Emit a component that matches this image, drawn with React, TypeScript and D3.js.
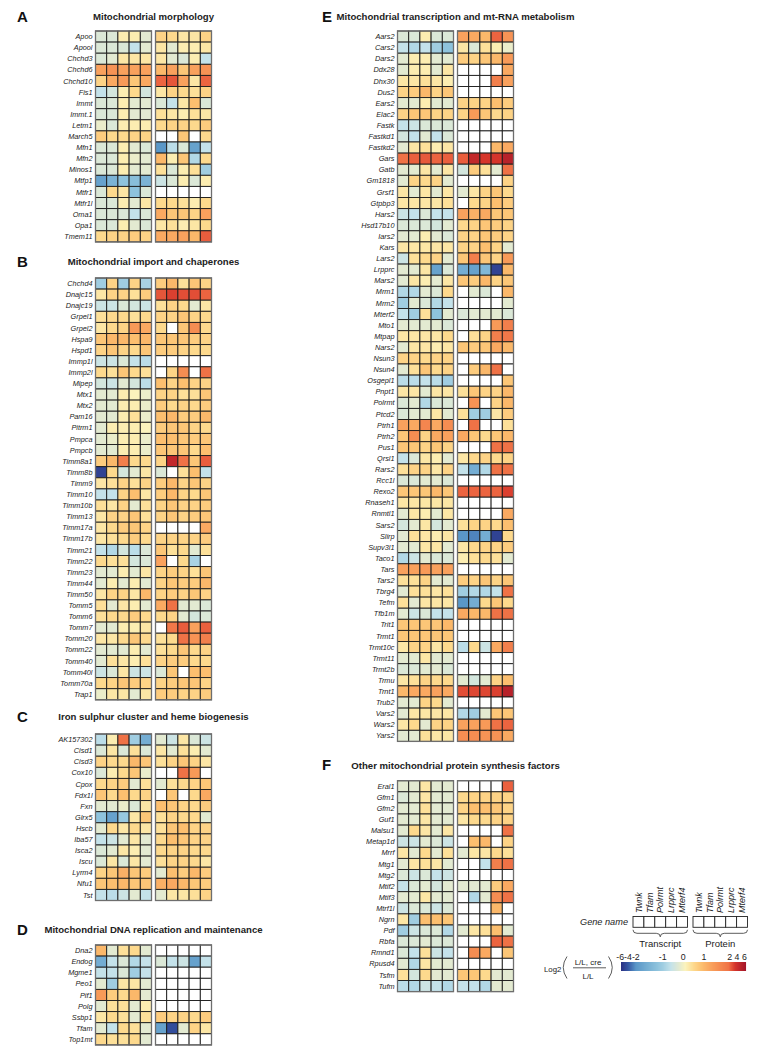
import React from "react";
import * as d3 from "d3";

const N = null;

// ---------- Panel A: Mitochondrial morphology ----------
const genesA = ["Apoo","Apool","Chchd3","Chchd6","Chchd10","Fis1","Immt","Immt.1","Letm1","March5","Mfn1","Mfn2","Minos1","Mtfp1","Mtfr1","Mtfr1l","Oma1","Opa1","Tmem11"];
const transcriptA = [
  [-0.3,-0.3,0.2,0.2,-0.2],[-0.3,-0.3,-0.3,-0.6,-0.2],[-0.3,-0.2,0.3,0.3,0.3],[1.3,1.5,1.3,1.3,1.3],[0.6,1.2,1.4,0.8,1.2],
  [-0.6,-0.4,0.2,0.5,-0.4],[-0.3,-0.3,0.2,-0.2,-0.2],[-0.3,-0.3,0.2,-0.2,-0.2],[-0.1,-0.3,0.2,0.2,0.2],[0.7,0.5,0.5,0.6,0.6],
  [-0.3,-0.3,0.2,-0.2,-0.3],[-0.3,-0.3,0.2,-0.1,-0.2],[-0.3,-0.3,0.2,-0.2,-0.2],[-1.8,-1.5,-1.2,-1.3,-1.5],[-0.3,0.5,0.3,-1.2,-0.3],
  [-0.3,-0.3,0.2,-0.2,0.3],[-0.3,-0.3,-0.3,-0.6,-0.3],[-0.3,-0.3,0.2,-0.2,-0.3],[0.5,0.6,0.6,0.7,0.6]
];
const proteinA = [
  [0.6,0.5,0.3,0.3,0.6],[0.3,-0.2,0.2,0.2,0.3],[0.3,-0.2,-0.3,0.2,-0.6],[1.0,1.3,0.8,1.3,1.5],[2.2,2.6,1.3,0.3,2.2],
  [0.3,0.6,0.5,0.4,0.6],[-0.3,-0.6,0.3,0.9,-0.3],[0.4,0.3,0.2,0.4,0.3],[0.5,0.6,0.6,0.5,0.7],[N,N,0.8,N,0.5],
  [-2.0,-0.7,-0.3,-1.8,-0.6],[1.0,0.2,0.8,-0.8,0.5],[0.4,-0.3,0.2,0.4,-1.0],[-0.5,-0.3,0.2,-0.3,0.2],[N,N,N,N,N],
  [0.5,0.5,0.4,0.2,0.5],[1.2,0.8,0.8,0.6,1.3],[0.3,0.4,0.2,0.3,0.5],[1.2,1.2,1.3,1.0,2.4]
];

// ---------- Panel B: Mitochondrial import and chaperones ----------
const genesB = ["Chchd4","Dnajc15","Dnajc19","Grpel1","Grpel2","Hspa9","Hspd1","Immp1l","Immp2l","Mipep","Mtx1","Mtx2","Pam16","Pitrm1","Pmpca","Pmpcb","Timm8a1","Timm8b","Timm9","Timm10","Timm10b","Timm13","Timm17a","Timm17b","Timm21","Timm22","Timm23","Timm44","Timm50","Tomm5","Tomm6","Tomm7","Tomm20","Tomm22","Tomm40","Tomm40l","Tomm70a","Trap1"];
const transcriptB = [
  [-1.0,0.6,-1.0,0.6,-0.9],[0.3,0.6,0.6,0.4,0.7],[-0.5,-0.5,-0.3,-0.4,-0.5],[0.4,0.5,0.5,0.4,0.5],[0.3,0.5,0.6,1.4,1.2],
  [0.8,1.0,1.0,0.9,1.0],[0.6,0.8,0.6,0.5,0.8],[-0.5,-0.5,-0.3,-0.6,-0.7],[0.5,0.4,0.8,0.5,0.4],[-0.4,-0.5,-0.2,-0.4,-0.7],
  [-0.2,-0.2,0.2,0.1,-0.1],[-0.2,-0.2,0.2,0.2,-0.1],[-0.2,-0.2,0.2,0.4,-0.1],[-0.2,0.2,0.2,0.2,0.1],[-0.2,-0.1,0.2,0.2,-0.1],
  [-0.2,-0.2,0.2,0.2,-0.1],[0.7,1.0,1.8,0.5,0.5],[-5.0,0.5,-0.4,-0.2,0.3],[0.3,0.4,0.6,0.4,0.6],[-0.6,-0.6,0.6,0.9,0.3],
  [0.4,0.3,0.6,-0.2,0.4],[0.3,0.6,0.6,0.8,0.4],[0.3,0.5,0.7,0.8,0.6],[0.3,0.4,0.5,0.7,0.5],[-0.6,-0.8,-0.4,-0.7,-0.3],
  [0.5,0.4,0.4,-0.4,-0.3],[-0.2,-0.2,0.2,-0.2,0.3],[-0.2,0.2,-0.2,0.2,-0.2],[0.3,0.6,0.6,0.3,1.0],[0.4,-0.2,0.3,0.2,-0.2],
  [0.4,0.5,0.5,0.7,0.5],[-0.2,-0.2,0.2,0.2,0.3],[0.3,0.3,0.5,0.8,0.5],[-0.2,-0.2,-0.2,0.2,-0.2],[-0.2,0.4,0.3,0.2,0.4],
  [-0.5,-0.3,0.3,-0.5,-0.5],[0.5,0.6,0.8,0.7,0.6],[-0.1,0.3,0.3,-0.2,0.3]
];
const proteinB = [
  [0.7,1.0,0.4,0.8,0.6],[2.6,3.2,2.8,2.8,2.2],[0.4,0.6,0.5,-0.2,0.3],[0.6,0.6,0.8,0.6,0.5],[0.5,N,0.8,1.6,0.5],
  [0.8,0.8,0.8,0.7,0.6],[0.7,0.7,0.6,0.5,0.5],[N,N,N,N,N],[N,0.6,1.6,N,2.0],[0.9,0.6,0.9,0.6,0.6],
  [0.6,0.6,0.4,0.4,0.8],[0.7,0.5,0.6,0.5,0.7],[0.9,1.0,0.7,0.7,1.0],[0.7,0.8,0.8,0.6,0.5],[0.9,0.9,0.8,0.7,0.8],
  [0.8,0.8,0.8,0.5,0.9],[0.6,4.5,2.0,0.8,2.4],[-0.3,N,0.4,0.9,-0.6],[0.7,1.0,0.6,0.8,0.6],[0.7,1.0,0.6,0.5,0.8],
  [0.6,0.8,0.6,0.6,0.7],[0.6,0.8,0.6,0.7,0.8],[N,N,N,N,1.2],[0.6,0.6,0.6,0.6,0.7],[0.8,0.4,0.5,-0.2,0.4],
  [1.3,N,0.5,-0.9,N],[0.6,0.7,0.6,0.4,0.8],[0.6,0.8,0.7,0.7,1.0],[0.6,0.7,0.6,0.8,0.6],[1.2,2.0,-0.2,-0.2,-0.3],
  [0.5,0.6,-0.2,-0.4,-0.3],[N,1.9,2.4,1.3,2.3],[0.4,0.5,2.0,1.5,1.8],[0.4,0.5,0.8,0.5,0.6],[0.6,0.7,0.7,0.5,0.5],
  [-0.3,0.8,N,0.9,0.9],[0.6,0.7,0.8,0.8,0.6],[0.7,0.7,0.6,0.6,0.7]
];

// ---------- Panel C: Iron sulphur cluster and heme biogenesis ----------
const genesC = ["AK157302","Cisd1","Cisd3","Cox10","Cpox","Fdx1l","Fxn","Glrx5","Hscb","Iba57","Isca2","Iscu","Lyrm4","Nfu1","Tst"];
const transcriptC = [
  [-0.7,0.2,2.0,-1.0,-1.6],[-0.3,0.3,-0.3,0.4,-0.3],[0.6,0.5,0.5,1.0,0.8],[-0.3,0.2,0.5,0.8,-0.1],[0.5,0.6,0.7,-0.2,0.4],
  [0.8,0.5,0.9,0.5,0.6],[-0.2,-0.2,-0.1,-0.3,0.3],[-1.2,-1.8,-1.1,0.3,0.8],[-0.2,0.5,0.3,0.5,0.3],[-0.6,-0.5,-0.2,0.3,-0.2],
  [-0.3,-0.2,0.3,0.2,-0.2],[-0.3,0.3,-0.3,0.3,-0.2],[0.6,0.8,1.1,0.8,0.7],[0.8,0.9,1.0,0.8,0.8],[-0.6,-0.7,-0.5,-0.2,-0.6]
];
const proteinC = [
  [-0.2,-0.5,0.3,-0.3,-0.5],[0.3,-0.2,0.4,0.2,-0.2],[0.4,0.6,0.8,0.6,0.3],[N,N,2.0,1.4,N],[-0.2,0.4,0.5,0.6,0.8],
  [N,0.8,N,0.5,1.2],[0.9,0.8,0.6,0.5,0.7],[0.4,0.6,0.5,0.5,-0.2],[0.4,0.8,0.9,0.6,0.6],[0.5,0.9,0.8,0.6,0.6],
  [0.5,0.6,0.6,0.5,0.5],[0.4,0.6,0.6,0.5,0.3],[-0.2,0.9,0.7,1.0,0.7],[1.1,1.2,1.0,0.8,0.7],[-0.2,0.3,0.3,0.4,0.6]
];

// ---------- Panel D: Mitochondrial DNA replication and maintenance ----------
const genesD = ["Dna2","Endog","Mgme1","Peo1","Pif1","Polg","Ssbp1","Tfam","Top1mt"];
const transcriptD = [
  [1.0,-0.2,0.4,0.5,-0.2],[-1.6,-0.6,-0.3,-0.8,-0.6],[-0.6,-0.6,-0.3,-1.0,-0.6],[-0.2,-1.0,0.3,0.3,-0.2],[1.4,0.7,0.5,1.0,-0.2],
  [-0.2,0.4,0.4,-0.2,0.2],[0.3,0.5,0.4,-0.2,0.4],[-0.2,-0.6,0.5,0.4,-0.2],[0.5,0.4,0.4,0.5,-0.2]
];
const proteinD = [
  [N,N,N,N,N],[-0.3,-0.6,-0.5,-1.8,-0.6],[N,N,N,N,N],[N,N,N,N,N],[N,N,N,N,N],
  [N,N,N,N,N],[0.7,0.6,0.6,0.5,0.7],[-1.8,-4.5,-0.2,0.6,0.3],[N,N,N,N,N]
];

// ---------- Panel E: Mitochondrial transcription and mt-RNA metabolism ----------
const genesE = ["Aars2","Cars2","Dars2","Ddx28","Dhx30","Dus2","Ears2","Elac2","Fastk","Fastkd1","Fastkd2","Gars","Gatb","Gm1818","Grsf1","Gtpbp3","Hars2","Hsd17b10","Iars2","Kars","Lars2","Lrpprc","Mars2","Mrm1","Mrm2","Mterf2","Mto1","Mtpap","Nars2","Nsun3","Nsun4","Osgepl1","Pnpt1","Polrmt","Ptcd2","Ptrh1","Ptrh2","Pus1","Qrsl1","Rars2","Rcc1l","Rexo2","Rnaseh1","Rnmtl1","Sars2","Slirp","Supv3l1","Taco1","Tars","Tars2","Tbrg4","Tefm","Tfb1m","Trit1","Trmt1","Trmt10c","Trmt11","Trmt2b","Trmu","Trnt1","Trub2","Vars2","Wars2","Yars2"];
const transcriptE = [
  [-0.3,-0.3,0.2,-0.3,-0.3],[-0.6,-0.8,-0.6,-1.0,-1.2],[-0.2,0.2,0.2,-0.2,-0.2],[-0.2,0.2,0.2,-0.2,0.3],[0.3,0.3,0.4,0.3,0.2],
  [0.6,0.7,1.0,0.6,0.8],[-0.2,-0.2,0.2,-0.2,-0.2],[0.6,0.8,0.8,0.6,0.6],[-0.6,-0.5,-0.3,-0.3,-0.3],[-0.4,-0.6,-0.2,-0.6,-0.3],
  [-0.2,0.3,0.4,0.2,0.3],[2.0,2.3,2.5,2.2,2.3],[-0.2,-0.2,0.3,-0.2,0.3],[-0.2,0.6,0.5,0.6,-0.2],[0.3,-0.2,0.3,-0.2,0.3],
  [0.3,0.3,0.3,0.3,0.4],[-0.5,-0.6,-0.3,-0.6,-0.6],[-0.3,-0.3,-0.3,-0.4,-0.2],[-0.2,-0.2,0.2,-0.2,-0.3],[0.3,0.3,0.3,0.3,0.3],
  [-0.5,0.4,0.5,0.6,-0.2],[-0.2,-0.2,0.3,-1.8,-0.3],[-0.2,0.3,0.2,-0.2,0.3],[-0.8,-0.8,-0.2,-0.3,0.5],[-1.0,-0.2,-0.3,-0.8,-0.6],
  [-0.6,-1.0,0.4,-1.2,-0.2],[-0.2,-0.2,-0.2,-0.2,-0.3],[0.3,0.3,0.3,0.3,0.5],[-0.2,0.3,0.3,0.2,0.3],[0.6,0.6,0.5,0.6,0.6],
  [-0.2,0.4,0.8,0.5,0.6],[-0.7,-0.7,-0.6,-0.7,-1.0],[0.3,0.3,-0.2,0.3,0.3],[-0.3,-0.2,-0.8,-0.3,-0.3],[-0.3,-0.2,-0.2,0.3,-0.2],
  [1.3,1.2,1.7,1.2,1.6],[0.8,1.6,0.6,1.2,1.3],[0.8,0.8,0.6,0.8,0.6],[-0.6,-0.3,0.3,0.2,-0.2],[0.4,0.6,0.6,0.3,0.6],
  [-0.3,-0.3,-0.2,-0.2,-0.3],[0.8,0.8,0.8,1.0,0.8],[0.3,0.3,0.3,0.3,0.3],[-0.2,0.3,0.2,-0.2,0.3],[-0.4,-0.2,0.3,-0.4,-0.2],
  [-0.2,0.4,0.3,0.2,0.3],[-0.2,-0.2,0.3,0.3,-0.2],[-0.8,-0.5,-0.2,-0.3,-0.3],[1.3,1.3,1.4,1.3,1.3],[0.4,0.4,0.6,-0.2,-0.2],
  [-0.2,0.4,0.4,0.3,0.4],[0.4,-0.2,0.3,0.3,0.3],[-0.2,-0.5,-0.3,-0.6,-0.6],[0.8,0.8,0.8,0.8,1.0],[0.8,0.8,0.8,0.8,0.8],
  [0.3,0.6,0.6,0.3,0.5],[-0.2,-0.2,0.3,-0.2,-0.2],[-0.3,-0.3,-0.2,-0.2,-0.3],[0.3,0.4,0.6,0.5,0.5],[1.0,1.2,1.2,1.3,1.2],
  [-0.2,-0.2,0.6,0.5,-0.2],[-0.2,0.3,0.3,0.3,0.3],[0.3,0.5,-0.2,0.6,0.6],[-0.2,-0.2,0.4,0.3,0.3]
];
const proteinE = [
  [1.3,1.2,1.0,2.2,1.5],[0.3,-0.3,0.4,0.2,-0.1],[0.7,0.6,0.8,1.0,1.4],[N,N,N,N,1.2],[N,N,N,1.8,1.3],
  [N,N,N,N,N],[0.6,0.6,0.6,0.9,0.7],[0.6,1.4,0.8,0.5,0.6],[N,N,N,N,N],[N,N,N,N,N],
  [N,N,N,1.0,1.2],[2.4,4.5,3.5,3.5,5.0],[-0.4,0.7,0.4,-0.2,2.0],[N,N,N,N,0.6],[-0.2,0.3,0.6,0.8,0.5],
  [N,0.5,0.6,0.9,0.7],[1.3,1.1,1.2,0.8,0.8],[0.5,0.6,0.8,0.7,0.6],[0.6,0.6,0.8,0.7,0.6],[0.6,0.6,0.9,0.6,-0.2],
  [0.8,1.8,0.8,0.6,1.4],[-1.6,-1.8,-1.4,-5.0,1.0],[0.8,0.7,1.0,0.6,0.8],[N,-0.2,-0.3,N,1.0],[N,N,N,N,-0.2],
  [-0.3,-0.2,-0.2,-0.2,-0.3],[N,N,N,1.4,1.8],[N,0.4,0.6,1.8,1.9],[0.8,0.7,0.8,1.2,1.0],[N,N,N,N,N],
  [N,0.7,1.0,2.0,N],[N,N,N,N,0.8],[0.4,0.8,0.6,0.6,1.0],[N,1.5,N,0.6,1.0],[0.4,-1.0,-1.0,0.3,0.7],
  [N,2.0,N,N,0.4],[1.2,0.8,0.5,0.8,1.0],[N,N,N,2.0,2.0],[0.3,0.5,0.6,0.5,0.6],[-0.6,-1.6,-0.8,2.0,2.0],
  [N,N,N,N,N],[2.2,2.2,2.2,2.2,3.2],[N,N,N,N,N],[N,N,N,N,1.2],[0.4,0.6,0.6,0.5,0.9],
  [-2.0,-2.6,-1.6,-5.0,0.5],[0.3,0.5,0.6,0.6,0.7],[0.2,0.4,0.5,0.4,-0.2],[N,N,N,N,N],[0.7,0.6,0.8,0.6,0.8],
  [-1.0,-0.8,-0.8,-0.6,2.0],[-2.0,-1.6,0.5,0.8,0.5],[1.2,1.0,1.0,2.0,2.0],[N,N,N,N,N],[N,N,N,N,N],
  [-0.7,0.5,-0.5,1.2,1.8],[N,N,N,N,N],[N,N,N,N,N],[-0.2,-0.4,-0.2,0.6,0.9],[2.8,3.0,3.0,3.2,5.0],
  [N,N,N,N,N],[-0.8,-1.0,-0.2,0.8,0.8],[1.3,1.3,1.4,2.0,2.2],[1.6,1.6,1.5,1.5,1.2]
];

// ---------- Panel F: Other mitochondrial protein synthesis factors ----------
const genesF = ["Eral1","Gfm1","Gfm2","Guf1","Malsu1","Metap1d","Mrrf","Mtg1","Mtg2","Mtif2","Mtif3","Mtrf1l","Ngrn","Pdf","Rbfa","Rmnd1","Rpusd4","Tsfm","Tufm"];
const transcriptF = [
  [-0.2,-0.2,0.3,-0.2,-0.2],[-0.3,-0.2,0.3,-0.2,-0.2],[-0.2,-0.2,0.4,-0.2,-0.2],[-0.2,-0.2,0.3,-0.2,-0.2],[-0.2,0.5,0.3,-0.2,0.3],
  [-0.5,-0.5,-0.2,-0.3,-0.5],[0.3,-0.2,0.5,-0.2,0.4],[-0.2,0.3,0.4,0.3,-0.2],[-0.3,-0.5,-0.3,-0.6,-0.5],[-0.6,-0.3,-0.2,-0.4,-0.2],
  [-0.2,-0.2,0.3,-0.2,-0.2],[-0.5,-0.3,-0.3,-0.5,-0.3],[0.3,-1.0,0.9,0.9,0.8],[-1.0,-0.5,-0.3,-0.3,-0.8],[-0.3,-0.3,-0.2,-0.3,-0.3],
  [-0.3,-0.6,0.4,-0.5,-0.6],[-0.2,-0.8,0.3,-0.2,-0.2],[0.4,-0.4,0.5,-0.2,-0.2],[-0.7,-0.8,-0.5,-0.6,-0.8]
];
const proteinF = [
  [N,N,N,N,2.3],[0.5,0.6,0.6,0.6,0.6],[0.6,0.9,0.9,0.8,0.6],[0.3,0.5,0.5,0.6,0.6],[N,N,N,N,2.0],
  [N,0.9,1.0,N,0.6],[-0.2,0.3,0.3,0.5,0.4],[N,N,-0.6,1.8,2.0],[N,N,N,N,N],[-0.2,-0.2,-0.2,0.7,1.2],
  [N,-0.8,-0.2,1.6,2.0],[N,N,N,1.0,N],[N,N,N,N,N],[-0.2,0.3,0.4,0.9,-0.2],[N,N,N,2.2,2.0],
  [N,1.6,1.2,N,0.8],[N,N,N,N,N],[0.8,0.8,0.5,-0.2,-0.2],[-0.6,-0.6,-0.8,-0.2,-0.2]
];

// ---------- Legend ----------
const legendGenes = ["Twnk","Tfam","Polrmt","Lrpprc","Mterf4"];
const legendTicks = [
  { label: "-6-4-2", v: -4 },
  { label: "-1", v: -1 },
  { label: "0", v: 0 },
  { label: "1", v: 1 },
  { label: "2 4 6", v: 4 },
];
const colorDomain = [-6, -4, -2, -1.2, -0.6, -0.25, 0.1, 0.5, 0.9, 1.4, 2.2, 3.5, 6];
const colorRange = ["#2a2f83","#3557a3","#5a97c8","#8ec3dd","#c4e2ea","#dfe9d4","#fbf3bd","#fdd98d","#fcbf6f","#f89a58","#ec6440","#d6352b","#a3152a"];
const barDomain = [-6, -4, -2, -1, 0, 1, 2, 4, 6];

const color = d3.scaleLinear<string>().domain(colorDomain).range(colorRange).interpolate(d3.interpolateRgb).clamp(true);

const FONT = "'Liberation Sans', Arial, Helvetica, sans-serif";
const ROW_H = 11.1;
const CELL_W = 11.2;
const GAP = 4;

type PanelCfg = {
  letter: string; title: string; genes: string[]; tr: (number | null)[][]; pr: (number | null)[][];
  gridX: number; top: number; titleY: number; letterX: number;
};

const panels: PanelCfg[] = [
  { letter: "A", title: "Mitochondrial morphology", genes: genesA, tr: transcriptA, pr: proteinA, gridX: 95.5, top: 31, titleY: 20, letterX: 17 },
  { letter: "B", title: "Mitochondrial import and chaperones", genes: genesB, tr: transcriptB, pr: proteinB, gridX: 95.5, top: 278, titleY: 265, letterX: 17 },
  { letter: "C", title: "Iron sulphur cluster and heme biogenesis", genes: genesC, tr: transcriptC, pr: proteinC, gridX: 95.5, top: 734, titleY: 720, letterX: 17 },
  { letter: "D", title: "Mitochondrial DNA replication and maintenance", genes: genesD, tr: transcriptD, pr: proteinD, gridX: 95.5, top: 945, titleY: 933, letterX: 17 },
  { letter: "E", title: "Mitochondrial transcription and mt-RNA metabolism", genes: genesE, tr: transcriptE, pr: proteinE, gridX: 397.5, top: 31, titleY: 20, letterX: 322 },
  { letter: "F", title: "Other mitochondrial protein synthesis factors", genes: genesF, tr: transcriptF, pr: proteinF, gridX: 397.5, top: 780.7, titleY: 768.5, letterX: 322 },
];

function Block({ x0, top, data }: { x0: number; top: number; data: (number | null)[][] }) {
  const xs = d3.scaleBand<number>().domain(d3.range(5)).range([x0, x0 + 5 * CELL_W]).padding(0);
  const ys = d3.scaleBand<number>().domain(d3.range(data.length)).range([top, top + data.length * ROW_H]).padding(0);
  return (
    <g>
      {data.map((row, i) =>
        row.map((v, j) => (
          <rect key={i + "-" + j} x={xs(j)} y={ys(i)} width={xs.bandwidth()} height={ys.bandwidth()}
            fill={v === null ? "#ffffff" : color(v)} stroke="#1a1a1a" strokeWidth={0.9} />
        ))
      )}
      <rect x={x0} y={top} width={5 * CELL_W} height={data.length * ROW_H} fill="none" stroke="#6e6e6e" strokeWidth={1.3} />
    </g>
  );
}

function Panel({ p }: { p: PanelCfg }) {
  const rightX = p.gridX + 5 * CELL_W + GAP;
  const center = (p.gridX + rightX + 5 * CELL_W) / 2;
  const ys = d3.scaleBand<number>().domain(d3.range(p.genes.length)).range([p.top, p.top + p.genes.length * ROW_H]);
  return (
    <g>
      <text x={p.letterX} y={p.titleY + 1.5} fontSize={15} fontWeight="bold" fontFamily={FONT} fill="#111">{p.letter}</text>
      <text x={center} y={p.titleY} fontSize={9.6} fontWeight="bold" fontFamily={FONT} textAnchor="middle" fill="#222">{p.title}</text>
      <g opacity={0.995}>
        {p.genes.map((g, i) => (
          <text key={g + i} x={p.gridX - 3} y={(ys(i) as number) + ROW_H / 2 + 2.6} fontSize={7.3} fontStyle="italic"
            fontFamily={FONT} textAnchor="end" fill="#222">{g}</text>
        ))}
      </g>
      <Block x0={p.gridX} top={p.top} data={p.tr} />
      <Block x0={rightX} top={p.top} data={p.pr} />
    </g>
  );
}

function brace(x0: number, x1: number, y: number) {
  const m = (x0 + x1) / 2;
  return `M${x0},${y} Q${x0},${y + 3.5} ${x0 + 4},${y + 3.5} L${m - 4},${y + 3.5} Q${m},${y + 3.5} ${m},${y + 7} Q${m},${y + 3.5} ${m + 4},${y + 3.5} L${x1 - 4},${y + 3.5} Q${x1},${y + 3.5} ${x1},${y}`;
}

function Legend() {
  const lx0 = 633, lw = 10.9, lgap = 5.5, by = 916.5, bh = 10.8;
  const rx0 = lx0 + 5 * lw + lgap;
  const barX = d3.scaleLinear().domain(barDomain).range([621, 628, 636, 662.7, 683.3, 704, 729, 737, 746]);
  const barY = 962, barH = 9;
  const px = d3.range(621, 746, 1);
  return (
    <g fontFamily={FONT}>
      <text x={628} y={925} fontSize={9.2} fontStyle="italic" textAnchor="end" fill="#222">Gene name</text>
      {[lx0, rx0].map((x0, gi) => (
        <g key={gi}>
          {legendGenes.map((g, i) => (
            <g key={g}>
              <rect x={x0 + i * lw} y={by} width={lw} height={bh} fill="#fff" stroke="#222" strokeWidth={0.9} />
              <text transform={`translate(${x0 + i * lw + lw / 2 + 3.2},${by - 3.5}) rotate(-90)`} fontSize={9}
                fontStyle="italic" fill="#222">{g}</text>
            </g>
          ))}
          <path d={brace(x0, x0 + 5 * lw, by + bh + 2.5)} fill="none" stroke="#333" strokeWidth={0.8} />
        </g>
      ))}
      <text x={lx0 + 2.5 * lw} y={946.5} fontSize={9.5} textAnchor="middle" fill="#222">Transcript</text>
      <text x={rx0 + 2.5 * lw} y={946.5} fontSize={9.5} textAnchor="middle" fill="#222">Protein</text>
      {px.map((x) => (
        <rect key={x} x={x} y={barY} width={1.05} height={barH} fill={color(barX.invert(x + 0.5))} />
      ))}
      {legendTicks.map((t) => (
        <text key={t.label} x={barX(t.v)} y={959.5} fontSize={8.8} textAnchor="middle" fill="#222">{t.label}</text>
      ))}
      <text x={544} y={971.5} fontSize={7.8} fill="#222">Log2</text>
      <path d="M567,956.5 Q559.5,967.5 567,978.5" fill="none" stroke="#333" strokeWidth={0.8} />
      <path d="M608.5,956.5 Q616,967.5 608.5,978.5" fill="none" stroke="#333" strokeWidth={0.8} />
      <text x={588} y={964.5} fontSize={8} textAnchor="middle" fill="#222">L/L, cre</text>
      <line x1={573} x2={606} y1={967.8} y2={967.8} stroke="#333" strokeWidth={0.8} />
      <text x={588} y={978.5} fontSize={8} textAnchor="middle" fill="#222">L/L</text>
    </g>
  );
}

export default function App() {
  return (
    <svg width={771} height={1055} style={{ position: "absolute", left: 0, top: 0, background: "#fff" }}>
      <rect width={771} height={1055} fill="#fff" />
      {panels.map((p) => <Panel key={p.letter} p={p} />)}
      <Legend />
    </svg>
  );
}
